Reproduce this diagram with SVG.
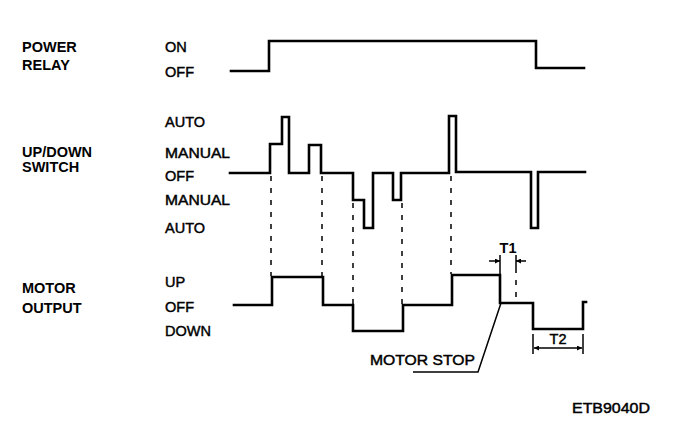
<svg xmlns="http://www.w3.org/2000/svg" width="688" height="436" viewBox="0 0 688 436">
<defs>
<style>
text{font-family:"Liberation Sans",Arial,sans-serif;fill:#000}
.g{font-size:14.5px;font-weight:bold}
.s{font-size:14.5px;stroke:#000;stroke-width:0.45}
.w{fill:none;stroke:#000;stroke-width:2.6;stroke-linejoin:miter;stroke-linecap:square}
.d{fill:none;stroke:#000;stroke-width:1.5;stroke-dasharray:5 7}
.t{fill:none;stroke:#000;stroke-width:1.5}
</style>
<marker id="ah" viewBox="0 0 10 10" refX="10" refY="5" markerWidth="7" markerHeight="5" orient="auto-start-reverse" markerUnits="userSpaceOnUse">
<path d="M0,0 L10,5 L0,10 z" fill="#000"/>
</marker>
</defs>
<rect width="688" height="436" fill="#fff"/>

<g id="power-relay">
<text class="g" x="22" y="52">POWER</text>
<text class="g" x="22" y="70">RELAY</text>
<text class="s" x="165" y="52">ON</text>
<text class="s" x="165" y="77">OFF</text>
<polyline class="w" points="231,71 269,71 269,41 536,41 536,68 584,68"/>
</g>

<g id="updown-switch">
<text class="g" x="22" y="157">UP/DOWN</text>
<text class="g" x="22" y="172">SWITCH</text>
<text class="s" x="165" y="127">AUTO</text>
<text class="s" x="165" y="158" textLength="65" lengthAdjust="spacingAndGlyphs">MANUAL</text>
<text class="s" x="165" y="181">OFF</text>
<text class="s" x="165" y="205" textLength="65" lengthAdjust="spacingAndGlyphs">MANUAL</text>
<text class="s" x="165" y="233">AUTO</text>
<polyline class="w" points="230,173 270,173 270,144 282,144 282,117 289,117 289,173 309,173 309,145 321,145 321,173 353,173 353,200 364,200 364,228 373,228 373,173 393,173 393,200 401,200 401,173 449,173 449,116 456,116 456,172 531,172 531,228 538,228 538,172 585,172"/>
</g>

<g id="motor-output">
<text class="g" x="22" y="293">MOTOR</text>
<text class="g" x="22" y="313">OUTPUT</text>
<text class="s" x="165" y="287">UP</text>
<text class="s" x="165" y="312">OFF</text>
<text class="s" x="165" y="336">DOWN</text>
<polyline class="w" points="234,305 272,305 272,277 323,277 323,305 353,305 353,331 403,331 403,305 452,305 452,275 500,275 500,303 533,303 533,329 583,329 583,302 586,302"/>
</g>

<g id="connectors">
<line class="d" x1="271" y1="176" x2="271" y2="276"/>
<line class="d" x1="322" y1="176" x2="322" y2="276"/>
<line class="d" x1="353" y1="203" x2="353" y2="304"/>
<line class="d" x1="402" y1="203" x2="402" y2="304"/>
<line class="d" x1="451" y1="176" x2="451" y2="274"/>
<line class="d" x1="516" y1="268" x2="516" y2="302" stroke-dasharray="3 7"/>
<polyline class="t" points="413,372 478,372 501,303"/>
</g>

<g id="t1">
<line class="t" x1="500" y1="255" x2="500" y2="275"/>
<line class="t" x1="516" y1="255" x2="516" y2="268"/>
<line class="t" x1="489" y1="261" x2="500" y2="261" marker-end="url(#ah)"/>
<line class="t" x1="526" y1="261" x2="516" y2="261" marker-end="url(#ah)"/>
<text class="g" x="508" y="253" text-anchor="middle">T1</text>
</g>

<g id="t2">
<line class="t" x1="533" y1="334" x2="533" y2="354"/>
<line class="t" x1="583" y1="334" x2="583" y2="354"/>
<line class="t" x1="534" y1="348" x2="582" y2="348" marker-start="url(#ah)" marker-end="url(#ah)"/>
<text class="s" x="558" y="344" text-anchor="middle">T2</text>
</g>

<text class="s" x="370" y="365" textLength="105" lengthAdjust="spacingAndGlyphs">MOTOR STOP</text>
<text class="s" x="572" y="413" textLength="78" lengthAdjust="spacingAndGlyphs">ETB9040D</text>
</svg>
